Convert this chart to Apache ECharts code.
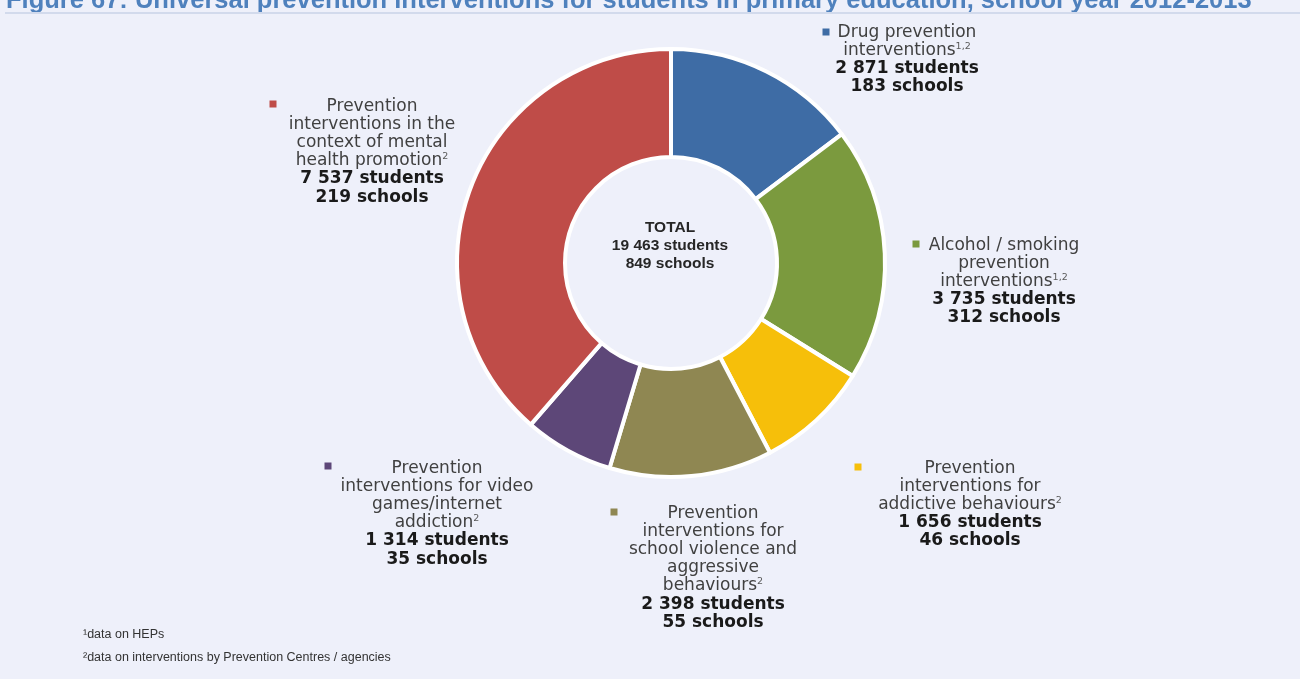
<!DOCTYPE html>
<html>
<head>
<meta charset="utf-8">
<script src="https://cdn.jsdelivr.net/npm/echarts@6/dist/echarts.min.js"></script>
<style>
  html, body { margin: 0; padding: 0; background: #eef0fa; }
  #chart { width: 1300px; height: 679px; }
</style>
</head>
<body>
<div id="chart"></div>
<script>
// ---- data ----
const categories = [
  'Drug prevention\ninterventions',
  'Alcohol / smoking\nprevention\ninterventions',
  'Prevention\ninterventions for\naddictive behaviours',
  'Prevention\ninterventions for\nschool violence and\naggressive\nbehaviours',
  'Prevention\ninterventions for video\ngames/internet\naddiction',
  'Prevention\ninterventions in the\ncontext of mental\nhealth promotion'
];
const footnoteRefs = ['1,2', '1,2', '2', '2', '2', '2'];
const students = [2871, 3735, 1656, 2398, 1314, 7537];
const schools = [183, 312, 46, 55, 35, 219];
const totalStudents = 19463;
const totalSchools = 849;
const colors = ['#3e6ca5', '#7b9a3e', '#f6bf0a', '#8f8752', '#5d4778', '#bf4c48'];
const footnotes = ['\u00B9data on HEPs', '\u00B2data on interventions by Prevention Centres / agencies'];
const titleText = 'Figure 67: Universal prevention interventions for students in primary education, school year 2012-2013';

// ---- layout (positions of annotation blocks) ----
const labelAnchors = [[907, 23], [1004, 236], [970, 459], [713, 504], [437, 459], [372, 97]];
const markerAnchors = [[826, 32], [916, 244], [858, 467], [614, 512], [328, 466], [273, 104]];
const pieCenter = [671, 263];

function fmt(n) {
  return String(n).replace(/\B(?=(\d{3})+(?!\d))/g, ' ');
}

const chart = echarts.init(document.getElementById('chart'));
const LABEL_FONT = '"DejaVu Sans", "Liberation Sans", Arial, sans-serif';
const NARROW_FONT = '"Liberation Sans Narrow", "Arial Narrow", sans-serif';

const graphics = [];
// title (top clipped like the reference)
graphics.push({
  type: 'text', left: 6, top: -12, silent: true,
  style: { text: titleText, font: 'bold 25.5px "Liberation Sans", Arial, sans-serif', fill: '#4f81bd' }
});
graphics.push({
  type: 'rect', shape: { x: 5, y: 12, width: 1295, height: 2 }, silent: true,
  style: { fill: '#d2daec' }
});
// markers
markerAnchors.forEach((p, i) => {
  graphics.push({
    type: 'rect', shape: { x: p[0] - 3.5, y: p[1] - 3.5, width: 7, height: 7 }, silent: true,
    style: { fill: colors[i] }
  });
});
// center total
graphics.push({
  type: 'text', x: pieCenter[0] - 1, y: 219, silent: true,
  style: {
    text: 'TOTAL\n' + fmt(totalStudents) + ' students\n' + totalSchools + ' schools',
    font: 'bold 15.5px ' + NARROW_FONT,
    fill: '#262626', align: 'center', lineHeight: 18
  }
});
// footnotes
footnotes.forEach((t, i) => {
  graphics.push({
    type: 'text', x: 83, y: 628 + i * 23, silent: true,
    style: { text: t, font: '12.5px ' + NARROW_FONT, fill: '#333333' }
  });
});

const data = categories.map((c, i) => ({
  name: c, value: students[i], itemStyle: { color: colors[i] }
}));

chart.setOption({
  backgroundColor: '#eef0fa',
  animation: false,
  graphic: graphics,
  series: [{
    type: 'pie',
    center: pieCenter,
    radius: [106, 214],
    startAngle: 90,
    clockwise: true,
    avoidLabelOverlap: false,
    emphasis: { disabled: true },
    itemStyle: { borderColor: '#ffffff', borderWidth: 4 },
    data: data,
    label: {
      show: true,
      position: 'outside',
      formatter: function (p) {
        const i = p.dataIndex;
        const lines = categories[i].split('\n');
        const out = lines.map((l, k) => k === lines.length - 1
          ? '{t|' + l + '}{s|' + footnoteRefs[i] + '}'
          : '{t|' + l + '}');
        out.push('{b|' + fmt(students[i]) + ' students}');
        out.push('{b|' + schools[i] + ' schools}');
        return out.join('\n');
      },
      align: 'center',
      rich: {
        t: { fontFamily: LABEL_FONT, fontSize: 17, color: '#404040', lineHeight: 18.2, align: 'center' },
        s: { fontFamily: LABEL_FONT, fontSize: 9.5, color: '#595959', lineHeight: 18.2, verticalAlign: 'top', padding: [0, 0, 6, 0] },
        b: { fontFamily: LABEL_FONT, fontSize: 17, fontWeight: 'bold', color: '#1a1a1a', lineHeight: 18.2, align: 'center' }
      }
    },
    labelLine: { show: false },
    labelLayout: function (params) {
      const a = labelAnchors[params.dataIndex];
      return { x: a[0], y: a[1], align: 'center', verticalAlign: 'top', hideOverlap: false, moveOverlap: null };
    }
  }]
});
</script>
</body>
</html>
